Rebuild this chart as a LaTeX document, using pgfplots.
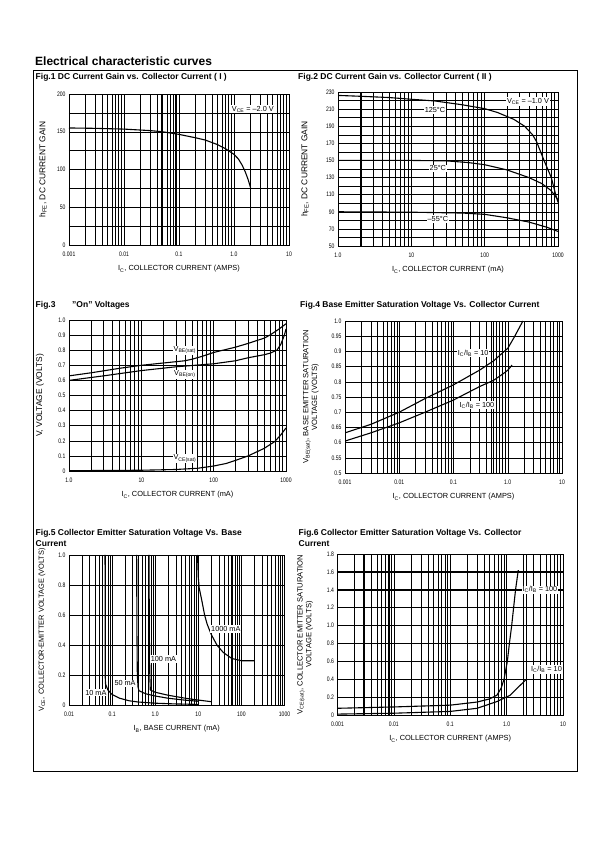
\documentclass[border=0pt]{standalone}
\usepackage{fontspec}
\setmainfont{Liberation Sans}
\newfontfamily\narrowfont[FakeStretch=0.78]{Liberation Sans}
\usepackage{pgfplots}
\pgfplotsset{compat=1.18}

\newcommand{\tl}{\narrowfont\fontsize{6.5}{7}\selectfont}
\newcommand{\fs}[1]{\fontsize{#1}{#1}\selectfont}
\newcommand{\cl}{\fontsize{7.3}{8}\selectfont}
\newcommand{\ft}{\bfseries\fontsize{8.5}{10}\selectfont}

\pgfplotsset{
  ds/.style={
    scale only axis, anchor=north west,
    axis line style={black, line width=0.9pt},
    xmajorgrids, ymajorgrids, xminorgrids, yminorgrids,
    major grid style={black, line width=0.45pt},
    minor grid style={black, line width=0.4pt},
    major tick length=0pt, minor tick length=0pt,
    tick style={draw=none},
    ticklabel style={font=\tl},
    xticklabel style={yshift=-3pt},
    xlabel style={font=\fs{7.4}, at={(axis description cs:0.5,0)}, anchor=base, yshift=-26pt},
    ylabel style={font=\fs{8.4}, anchor=center},
    extra x tick style={major grid style={black, line width=1.1pt}},
    extra y tick style={major grid style={black, line width=1.1pt}},
    extra x tick labels={}, extra y tick labels={},
    no markers,
    every axis plot post/.append style={black, solid, line width=1.1pt, mark=none},
    /pgf/number format/assume math mode=true,
  },
}
\tikzset{lbl/.style={fill=white, inner sep=1pt, font=\cl}}

\begin{document}
\begin{tikzpicture}
\path[use as bounding box, fill=white] (0,0) rectangle (595pt,842pt);
\draw[line width=0.9pt] (33pt,71pt) rectangle (577pt,771.5pt);
\node[anchor=base west, inner sep=0, font=\bfseries\fontsize{12}{14}\selectfont] at (35pt,776pt) {Electrical characteristic curves};
\node[anchor=base west, inner sep=0, font=\ft] at (35.5pt,762.5pt) {Fig.1 DC Current Gain vs. Collector Current ( I )};
\node[anchor=base west, inner sep=0, font=\ft] at (298pt,762.5pt) {Fig.2 DC Current Gain vs. Collector Current ( II )};
\node[anchor=base west, inner sep=0, font=\ft] at (35.5pt,534pt) {Fig.3};
\node[anchor=base west, inner sep=0, font=\ft] at (72pt,534pt) {"On" Voltages};
\node[anchor=base west, inner sep=0, font=\ft] at (300pt,534pt) {Fig.4 Base Emitter Saturation Voltage Vs. Collector Current};
\node[anchor=base west, inner sep=0, font=\ft] at (35.5pt,306pt) {Fig.5 Collector Emitter Saturation Voltage Vs. Base};
\node[anchor=base west, inner sep=0, font=\ft] at (35.5pt,295pt) {Current};
\node[anchor=base west, inner sep=0, font=\ft] at (298.5pt,306pt) {Fig.6 Collector Emitter Saturation Voltage Vs. Collector};
\node[anchor=base west, inner sep=0, font=\ft] at (298.5pt,295pt) {Current};

% ---------------- Fig.1
\begin{axis}[ds, at={(69pt,748pt)}, width=220pt, height=151pt,
  xmode=log, xmin=0.001, xmax=10, ymin=0, ymax=200,
  xtick={0.001,0.01,0.1,1,10}, xticklabels={0.001,0.01,0.1,1.0,10},
  minor xtick={0.002,0.003,0.004,0.005,0.006,0.007,0.008,0.009,0.02,0.03,0.04,0.05,0.06,0.07,0.08,0.09,0.2,0.3,0.4,0.5,0.6,0.7,0.8,0.9,2,3,4,5,6,7,8,9},
  ytick={0,50,100,150,200}, yticklabels={0,50,100,150,200},
  minor ytick={25,75,125,175},
  extra x ticks={0.048,0.088}, extra y ticks={50},
  xlabel={I\textsubscript{C}, COLLECTOR CURRENT (AMPS)},
  ylabel={h\textsubscript{FE}, DC CURRENT GAIN},
  ylabel style={at={(axis description cs:-0.118,0.5)}, font=\fs{8.4}},
]
\addplot coordinates {(0.001,155) (0.003,154.5) (0.01,153.5) (0.03,151.5) (0.05,150) (0.1,146.5) (0.2,142) (0.3,139) (0.5,133) (0.7,127.5) (1.0,120) (1.2,114) (1.4,106) (1.6,97) (1.8,87) (2.0,76)};
\node[lbl] at (2.2,180) {V\textsubscript{CE} = –2.0 V};
\end{axis}

% ---------------- Fig.2
\begin{axis}[ds, at={(338pt,750pt)}, width=220pt, height=154pt,
  xmode=log, xmin=1, xmax=1000, ymin=50, ymax=230,
  xtick={1,10,100,1000}, xticklabels={1.0,10,100,1000},
  minor xtick={2,3,4,5,6,7,8,9,20,30,40,50,60,70,80,90,200,300,400,500,600,700,800,900},
  ytick={50,70,90,110,130,150,170,190,210,230}, yticklabels={50,70,90,110,130,150,170,190,210,230},
  minor ytick={60,80,100,120,140,160,180,200,220},
  extra x ticks={2.1}, extra y ticks={130},
  xlabel={I\textsubscript{C}, COLLECTOR CURRENT (mA)},
  ylabel={h\textsubscript{FE}, DC CURRENT GAIN},
  ylabel style={at={(axis description cs:-0.15,0.5)}},
]
\addplot coordinates {(1,226) (2,225) (5,223.5) (10,221.5) (21,219.5) (50,215) (100,210.5) (150,206) (250,198) (350,190) (450,180) (510,172) (645,150) (810,130) (930,110) (1000,101)};
\addplot coordinates {(1,150) (10,150) (30,149.5) (60,147.5) (100,145) (200,139) (400,130) (600,123) (800,115) (1000,104)};
\addplot coordinates {(1,90) (10,89.5) (50,88.5) (100,87) (200,83) (400,78) (700,72) (1000,67)};
\node[lbl] at (390,219) {V\textsubscript{CE} = –1.0 V};
\node[lbl] at (21,209) {125°C};
\node[lbl] at (23,141) {25°C};
\node[lbl] at (23,81.5) {–55°C};
\end{axis}

% ---------------- Fig.3
\begin{axis}[ds, at={(69pt,522pt)}, width=217pt, height=151pt,
  xmode=log, xmin=1, xmax=1000, ymin=0, ymax=1,
  xtick={1,10,100,1000}, xticklabels={1.0,10,100,1000},
  minor xtick={2,3,4,5,6,7,8,9,20,30,40,50,60,70,80,90,200,300,400,500,600,700,800,900},
  ytick={0,0.1,0.2,0.3,0.4,0.5,0.6,0.7,0.8,0.9,1}, yticklabels={0,0.1,0.2,0.3,0.4,0.5,0.6,0.7,0.8,0.9,1.0},
  extra x ticks={100}, extra y ticks={0.5},
  xlabel={I\textsubscript{C}, COLLECTOR CURRENT (mA)},
  ylabel={V, VOLTAGE (VOLTS)},
  ylabel style={at={(axis description cs:-0.134,0.5)}},
]
\addplot coordinates {(1,0.63) (2,0.65) (5,0.68) (10,0.70) (20,0.715) (40,0.73) (50,0.74) (70,0.76) (100,0.785) (200,0.82) (300,0.845) (500,0.88) (600,0.90) (800,0.94) (1000,0.975)};
\addplot coordinates {(1,0.60) (3,0.63) (10,0.665) (30,0.69) (100,0.71) (200,0.73) (300,0.75) (500,0.77) (600,0.78) (750,0.80) (850,0.84) (950,0.90) (1000,0.94)};
\addplot coordinates {(1,0.002) (10,0.005) (30,0.01) (60,0.018) (100,0.033) (150,0.05) (200,0.07) (300,0.10) (500,0.15) (700,0.195) (850,0.24) (1000,0.285)};
\node[lbl] at (40,0.80) {V\textsubscript{BE(sat)}};
\node[lbl] at (40,0.64) {V\textsubscript{BE(on)}};
\node[lbl] at (40,0.083) {V\textsubscript{CE(sat)}};
\end{axis}

% ---------------- Fig.4
\begin{axis}[ds, at={(345pt,521pt)}, width=217pt, height=152pt,
  xmode=log, xmin=0.001, xmax=10, ymin=0.5, ymax=1,
  xtick={0.001,0.01,0.1,1,10}, xticklabels={0.001,0.01,0.1,1.0,10},
  minor xtick={0.002,0.003,0.004,0.005,0.006,0.007,0.008,0.009,0.02,0.03,0.04,0.05,0.06,0.07,0.08,0.09,0.2,0.3,0.4,0.5,0.6,0.7,0.8,0.9,2,3,4,5,6,7,8,9},
  ytick={0.5,0.55,0.6,0.65,0.7,0.75,0.8,0.85,0.9,0.95,1}, yticklabels={0.5,0.55,0.6,0.65,0.7,0.75,0.8,0.85,0.9,0.95,1.0},
  extra x ticks={0.54},
  xlabel={I\textsubscript{C}, COLLECTOR CURRENT (AMPS)},
  ylabel={V\textsubscript{BE(sat)}, BASE EMITTER SATURATION\\VOLTAGE (VOLTS)},
  ylabel style={at={(axis description cs:-0.157,0.5)}, align=center, font=\fs{7.6}},
]
\addplot coordinates {(0.001,0.632) (0.003,0.66) (0.01,0.70) (0.03,0.745) (0.1,0.79) (0.3,0.838) (0.55,0.869) (0.8,0.895) (1.0,0.91) (1.3,0.945) (1.6,0.975) (1.9,1.0)};
\addplot coordinates {(0.001,0.605) (0.003,0.632) (0.01,0.665) (0.03,0.70) (0.1,0.74) (0.3,0.784) (0.55,0.805) (0.8,0.825) (1.0,0.838) (1.2,0.855)};
\node[lbl] at (0.23,0.894) {I\textsubscript{C}/I\textsubscript{B} = 10};
\node[lbl] at (0.27,0.723) {I\textsubscript{C}/I\textsubscript{B} = 100};
\end{axis}

% ---------------- Fig.5
\begin{axis}[ds, at={(69pt,287pt)}, width=215.5pt, height=150pt,
  xmode=log, xmin=0.01, xmax=1000, ymin=0, ymax=1,
  xtick={0.01,0.1,1,10,100,1000}, xticklabels={0.01,0.1,1.0,10,100,1000},
  minor xtick={0.02,0.03,0.04,0.05,0.06,0.07,0.08,0.09,0.2,0.3,0.4,0.5,0.6,0.7,0.8,0.9,2,3,4,5,6,7,8,9,20,30,40,50,60,70,80,90,200,300,400,500,600,700,800,900},
  ytick={0,0.2,0.4,0.6,0.8,1}, yticklabels={0,0.2,0.4,0.6,0.8,1.0},
  extra x ticks={59,100},
  xlabel={I\textsubscript{B}, BASE CURRENT (mA)},
  ylabel={V\textsubscript{CE}, COLLECTOR-EMITTER VOLTAGE (VOLTS)},
  ylabel style={at={(axis description cs:-0.125,0.5)}, font=\fs{7.4}},
]
\addplot coordinates {(0.0686,1.0) (0.0688,0.5) (0.069,0.2) (0.0705,0.14) (0.08,0.10) (0.1,0.07) (0.15,0.045) (0.25,0.028) (0.4,0.02) (1,0.012) (3,0.007) (10,0.004)};
\addplot coordinates {(0.372,1.0) (0.376,0.5) (0.385,0.2) (0.40,0.12) (0.42,0.095) (0.6,0.075) (1,0.06) (2,0.045) (5,0.032) (10,0.025)};
\addplot coordinates {(0.72,1.0) (0.73,0.5) (0.75,0.2) (0.77,0.1) (1,0.085) (2,0.065) (5,0.045) (10,0.033) (20,0.022)};
\addplot coordinates {(9.6,1.0) (10,0.85) (10.5,0.78) (12,0.70) (14,0.60) (16,0.54) (20,0.47) (27,0.40) (38,0.35) (60,0.31) (100,0.295) (200,0.295)};
\node[lbl] at (0.042,0.082) {10 mA};
\node[lbl] at (0.2,0.144) {50 mA};
\node[lbl] at (1.55,0.307) {100 mA};
\node[lbl] at (43.5,0.507) {1000 mA};
\end{axis}

% ---------------- Fig.6
\begin{axis}[ds, at={(337.5pt,288pt)}, width=225.5pt, height=161pt,
  xmode=log, xmin=0.001, xmax=10, ymin=0, ymax=1.8,
  xtick={0.001,0.01,0.1,1,10}, xticklabels={0.001,0.01,0.1,1.0,10},
  minor xtick={0.002,0.003,0.004,0.005,0.006,0.007,0.008,0.009,0.02,0.03,0.04,0.05,0.06,0.07,0.08,0.09,0.2,0.3,0.4,0.5,0.6,0.7,0.8,0.9,2,3,4,5,6,7,8,9},
  ytick={0,0.2,0.4,0.6,0.8,1,1.2,1.4,1.6,1.8}, yticklabels={0,0.2,0.4,0.6,0.8,1.0,1.2,1.4,1.6,1.8},
  extra x ticks={0.0029,0.0083,2.26}, extra y ticks={0.2,0.4,0.6,0.8,1,1.2,1.4,1.6},
  xlabel={I\textsubscript{C}, COLLECTOR CURRENT (AMPS)},
  ylabel={V\textsubscript{CE(sat)}, COLLECTOR EMITTER SATURATION\\VOLTAGE (VOLTS)},
  ylabel style={at={(axis description cs:-0.144,0.5)}, align=center, font=\fs{7.6}},
]
\addplot coordinates {(0.001,0.075) (0.01,0.09) (0.1,0.11) (0.3,0.145) (0.5,0.18) (0.67,0.22) (0.8,0.30) (0.9,0.40) (1.03,0.6) (1.12,0.8) (1.23,1.0) (1.33,1.2) (1.44,1.4) (1.61,1.62)};
\addplot coordinates {(0.001,0.01) (0.01,0.02) (0.1,0.04) (0.3,0.075) (0.67,0.15) (1.15,0.22) (1.6,0.31) (2.25,0.40)};
\node[lbl] at (3.9,1.40) {I\textsubscript{C}/I\textsubscript{B} = 100};
\node[lbl] at (5.1,0.506) {I\textsubscript{C}/I\textsubscript{B} = 10};
\end{axis}
\end{tikzpicture}
\end{document}
